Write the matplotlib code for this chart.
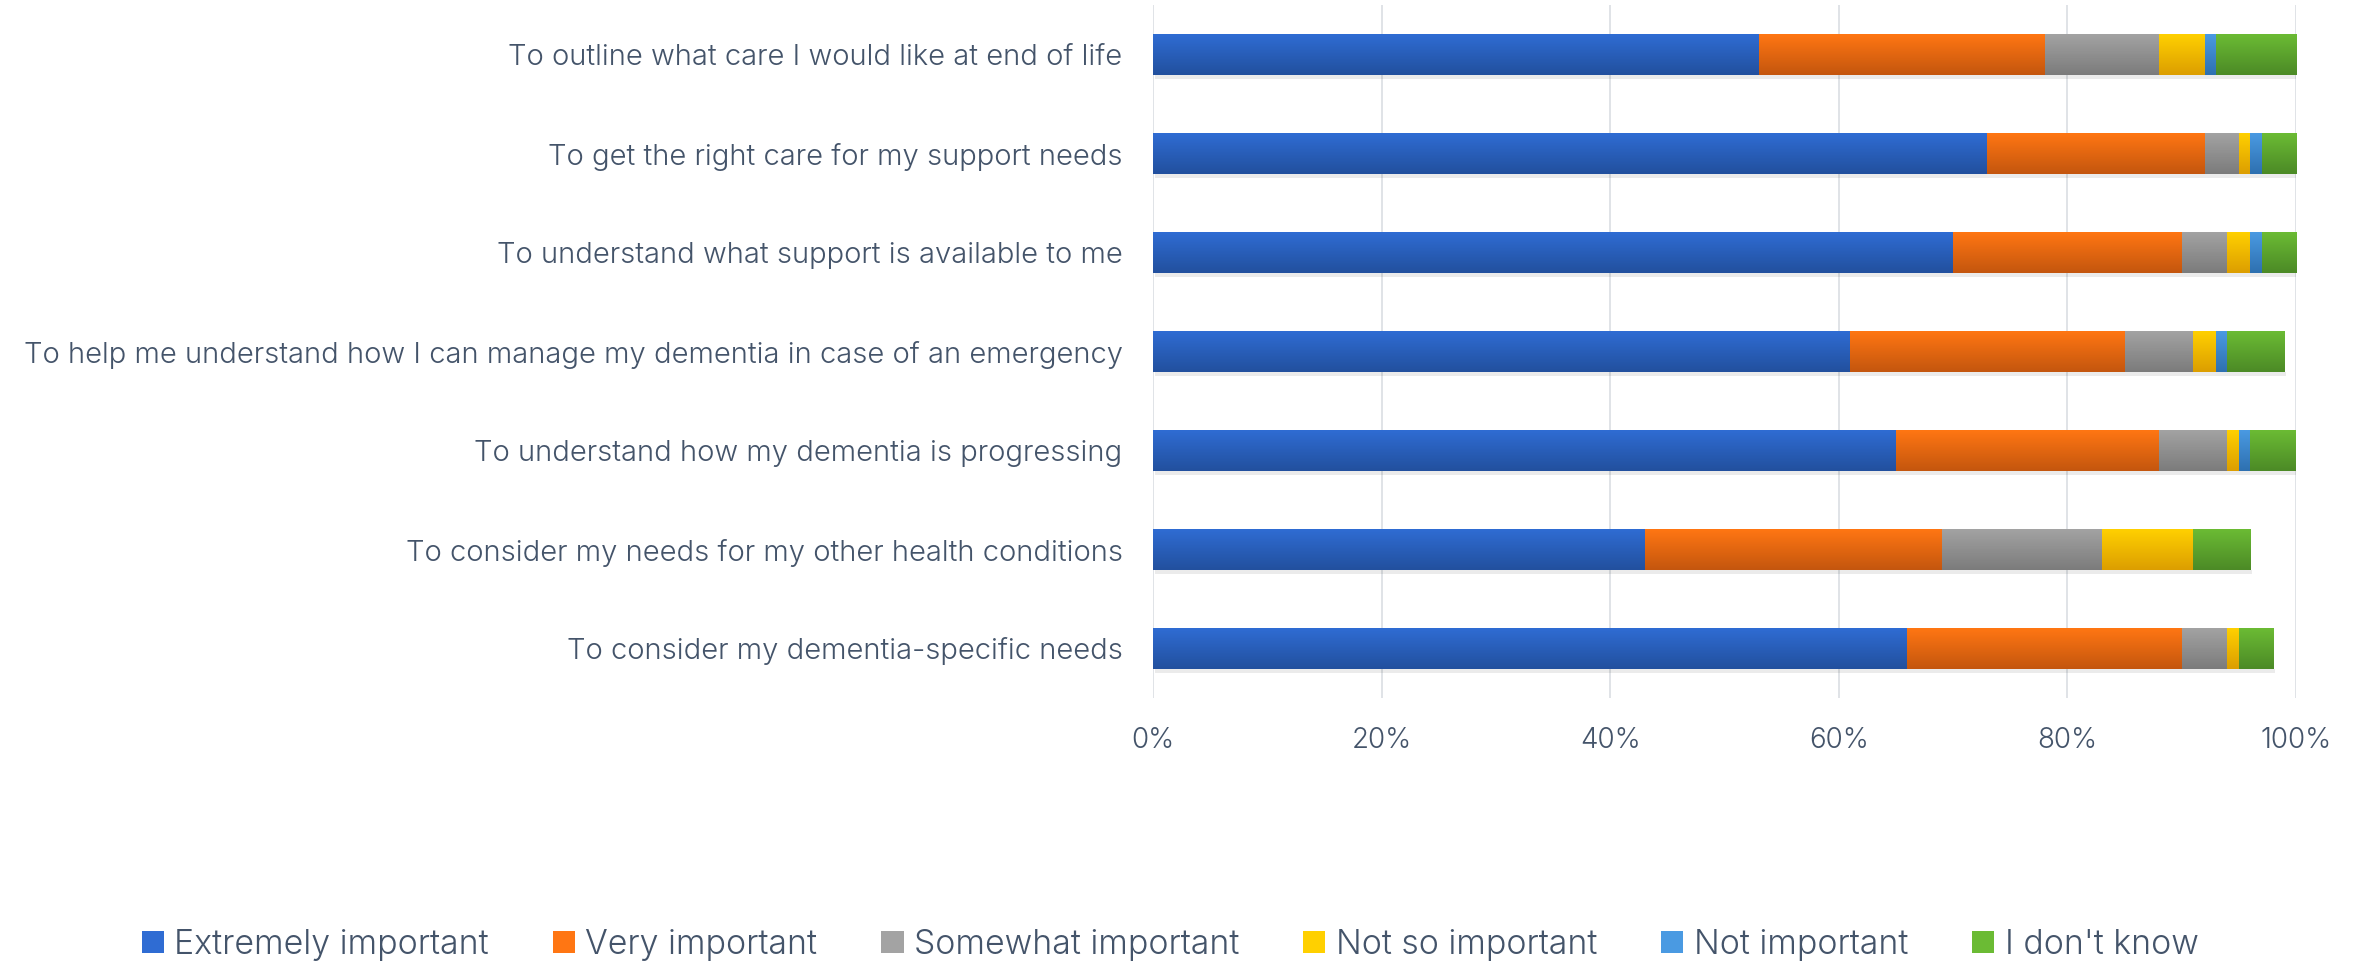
import matplotlib
matplotlib.use("Agg")
import matplotlib.pyplot as plt
import numpy as np
from matplotlib.colors import LinearSegmentedColormap
from matplotlib.patches import Patch

plt.rcParams['font.family'] = ['Inter', 'DejaVu Sans']

# categories, top to bottom
categories = [
    "To outline what care I would like at end of life",
    "To get the right care for my support needs",
    "To understand what support is available to me",
    "To help me understand how I can manage my dementia in case of an emergency",
    "To understand how my dementia is progressing",
    "To consider my needs for my other health conditions",
    "To consider my dementia-specific needs",
]
series_names = ["Extremely important", "Very important", "Somewhat important",
                "Not so important", "Not important", "I don't know"]

extremely = [53, 73, 70, 61, 65, 43, 66]
very = [25, 19, 20, 24, 23, 26, 24]
somewhat = [10, 3, 4, 6, 6, 14, 4]
not_so = [4, 1, 2, 2, 1, 8, 1]
not_imp = [1, 1, 1, 1, 1, 0, 0]
dont_know = [7, 3, 3, 5, 4, 5, 3]

xticks = [0, 20, 40, 60, 80, 100]

# (top colour, bottom colour) of the gradient fill
colors = [("#2F6CD3", "#22509E"), ("#FF7613", "#C4560E"), ("#A3A3A3", "#7B7B7B"),
          ("#FFD000", "#DC9E00"), ("#4A9AE2", "#2E70B0"), ("#6BBB34", "#4C8A26")]
text_col = "#44546A"

fig = plt.figure(figsize=(23.59, 9.65), dpi=100)
ax = fig.add_axes([0.4888, 0.2767, 0.4845, 0.718])

series = [extremely, very, somewhat, not_so, not_imp, dont_know]
y = np.arange(len(categories))
left = np.zeros(len(categories))
grad = np.linspace(0, 1, 64).reshape(-1, 1)
for vals, name, (c_top, c_bot) in zip(series, series_names, colors):
    vals = np.array(vals, dtype=float)
    bars = ax.barh(y, vals, left=left, height=0.414, color=c_top, label=name, zorder=2)
    cmap = LinearSegmentedColormap.from_list(name, [c_top, c_bot])
    for b in bars:
        if b.get_width() <= 0:
            continue
        x0, y0 = b.get_x(), b.get_y()
        w, h = b.get_width(), b.get_height()
        # soft shadow under the bar
        ax.add_patch(plt.Rectangle((x0 + 0.15, y0 + h), w, 0.04, color="#000000",
                                   alpha=0.08, lw=0, zorder=1))
        ax.imshow(grad, cmap=cmap, aspect="auto", extent=(x0, x0 + w, y0 + h, y0),
                  zorder=3, interpolation="bilinear")
    left += vals

ax.set_xlim(0, 100)
ax.set_ylim(len(categories) - 0.5, -0.5)
ax.set_xticks(xticks)
ax.set_xticklabels([f"{t}%" for t in xticks])
ax.set_yticks(y)
ax.set_yticklabels(categories, fontsize=21, fontweight=300)
ax.tick_params(axis="both", length=0, colors=text_col)
ax.tick_params(axis="x", labelsize=20, pad=21)
ax.tick_params(axis="y", pad=22)
for lab in ax.get_xticklabels():
    lab.set_fontweight(300)
for s in ax.spines.values():
    s.set_visible(False)
ax.grid(axis="x", color="#DDE0E5", lw=1.3, zorder=0)
ax.set_axisbelow(True)

handles = [Patch(facecolor=c[0], edgecolor="none") for c in colors]
leg = fig.legend(handles, series_names, loc="center", bbox_to_anchor=(0.496, 0.021),
                 ncol=6, frameon=False, handlelength=0.65, handleheight=0.65,
                 handletextpad=0.3, columnspacing=1.9, labelcolor=text_col,
                 prop={"size": 24.4, "weight": 300})

fig.savefig("out.png", dpi=100)
